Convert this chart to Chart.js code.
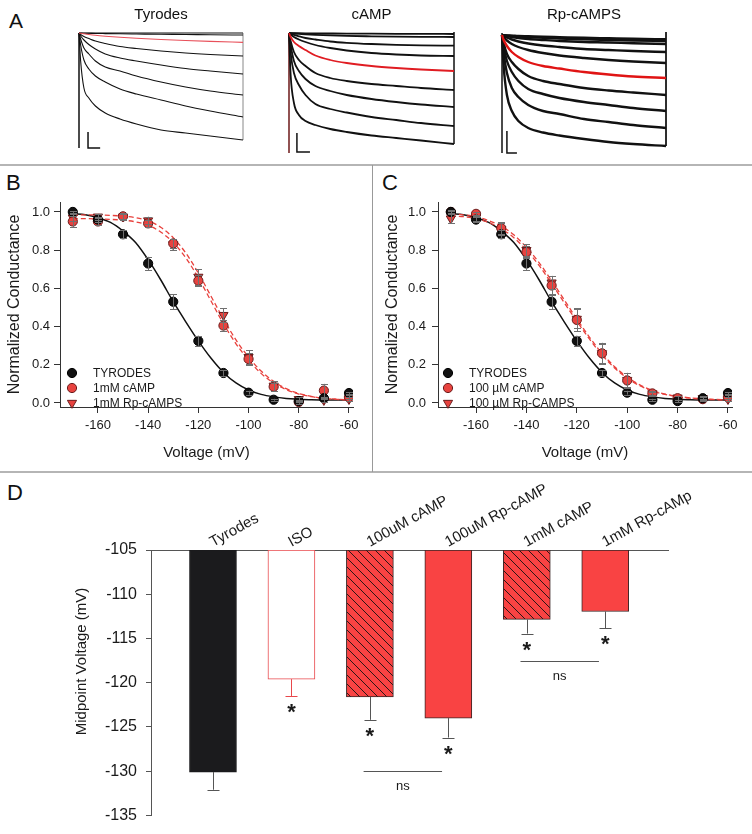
<!DOCTYPE html>
<html>
<head>
<meta charset="utf-8">
<script src="https://cdn.jsdelivr.net/npm/chart.js@4.4.1/dist/chart.umd.min.js"></script>
<style>
body { margin: 0; background: #fff; font-family: Arial, "Liberation Sans", Helvetica, sans-serif; }
#fig { position: relative; width: 752px; height: 834px; overflow: hidden; background: #fff; }
#fig canvas { position: absolute; }
.lbl { position: absolute; font-size: 22px; line-height: 1; color: #111; }
.rule { position: absolute; background: #b5b5b5; }
</style>
</head>
<body>
<div id="fig">
  <div class="lbl" style="left:9px;top:10px;font-size:21px">A</div>
  <div class="lbl" style="left:6px;top:172px">B</div>
  <div class="lbl" style="left:382px;top:172px">C</div>
  <div class="lbl" style="left:7px;top:482px">D</div>
  <div class="rule" style="left:0;top:164px;width:752px;height:2px"></div>
  <div class="rule" style="left:0;top:471px;width:752px;height:2px"></div>
  <div class="rule" style="left:372px;top:165px;width:1px;height:307px;background:#999"></div>

  <canvas id="a1" width="224" height="160" style="left:49px;top:0"></canvas>
  <canvas id="a2" width="225" height="160" style="left:259px;top:0"></canvas>
  <canvas id="a3" width="224" height="160" style="left:472px;top:0"></canvas>
  <canvas id="b" width="373" height="307" style="left:0;top:165px"></canvas>
  <canvas id="c" width="379" height="307" style="left:373px;top:165px"></canvas>
  <canvas id="d" width="752" height="362" style="left:0;top:472px"></canvas>
</div>
<script>
// ---- panel A : current traces (time in % of sweep, depth below holding level) ----
var TIME = [0, 1, 3, 6, 10, 16, 25, 35, 50, 65, 80, 100];

var TYR_TRACES = [
    [0, 0, 0, 0, 0, 0, 0, 0, 0, 0, 0, 0],
    [0, 0.1, 0.2, 0.3, 0.45, 0.6, 0.8, 1, 1.3, 1.5, 1.8, 2],
    [0, 0.3, 0.8, 1.5, 2.3, 3.2, 4.3, 5.3, 6.5, 7.5, 8.4, 9.4],
    [0, 1.5, 3.5, 5.5, 8, 10.5, 13.5, 15.5, 18, 20, 21.5, 23],
    [0, 3, 7, 11.5, 16, 21, 25, 28, 32, 35.5, 38, 41],
    [0, 6, 15, 21, 28, 34, 38, 43, 49, 54, 58, 62],
    [0, 12, 27, 36, 43, 49, 56, 61, 67, 73, 78, 84],
    [0, 28, 55, 65, 73, 80, 86, 91, 97, 100, 103, 107]
];
var CAMP_TRACES = [
    [0, 0.05, 0.1, 0.2, 0.3, 0.4, 0.5, 0.6, 0.7, 0.8, 0.9, 1],
    [0, 0.2, 0.5, 0.9, 1.3, 1.8, 2.4, 2.9, 3.3, 3.6, 3.8, 4],
    [0, 0.7, 1.8, 3.3, 5, 6.5, 8.5, 9.8, 11, 11.8, 12.3, 12.7],
    [0, 1.5, 4, 6.5, 9, 12, 15, 17.5, 20, 21.5, 22.5, 23],
    [0, 4, 9, 13, 17, 22.5, 27, 30, 33, 35, 36.5, 38],
    [0, 8, 19, 27, 33, 40, 45, 48, 51, 53, 55, 57],
    [0, 12, 28, 38, 46, 53, 58, 62, 66, 69, 71.5, 74],
    [0, 20, 40, 52, 62, 71, 76, 79.5, 84, 87, 90, 93],
    [0, 42, 70, 82, 88, 92, 96, 99, 102.5, 105, 107.5, 111]
];
var RP_TRACES = [
    [2, 2.2, 2.4, 2.6, 3, 3.3, 3.8, 4.2, 4.8, 5.3, 5.8, 6.3],
    [2, 2.3, 2.6, 3, 3.5, 4, 4.8, 5.5, 6.3, 7, 7.5, 8],
    [2, 2.5, 3, 4, 5, 6, 7, 8, 9, 9.5, 10.3, 11],
    [2, 3, 4.5, 6.5, 8.5, 10.5, 12.5, 14, 16, 17, 18, 19],
    [2, 4, 7.5, 11, 14, 17, 20, 22.5, 25, 27, 28.5, 30],
    [2, 7, 13, 19, 24, 29, 33, 35.5, 39, 41.5, 43.5, 45],
    [2, 10, 21, 29, 36, 43, 48, 51, 55, 57.5, 59.5, 62],
    [2, 14, 28, 39, 48, 56, 61, 65, 69, 72, 75, 78],
    [2, 20, 40, 55, 64, 72, 78, 81, 86, 89, 92, 95],
    [2, 33, 62, 78, 88, 95, 99.5, 102.5, 106, 109, 111, 113]
];
var TYR_RED = 2, CAMP_RED = 4, RP_RED = 5;
// left transient, right edge and scale bar, in the same units
var TYR_LEFT = [0, 115], CAMP_LEFT = [0, 120], RP_LEFT = [0, 120];
var TYR_EDGE = [0, 107], CAMP_EDGE = [-1, 111], RP_EDGE = [-1, 113];
var TYR_BAR = { x: [5.5, 5.5, 12.9], y: [99, 115, 115] };
var CAMP_BAR = { x: [4.8, 4.8, 12.7], y: [100, 119, 119] };
var RP_BAR = { x: [3, 3, 9.1], y: [98, 120, 120] };

// ---- panels B and C : normalized conductance ----
var VOLTS = [-170, -160, -150, -140, -130, -120, -110, -100, -90, -80, -70, -60];
var TYR_G = [1.0, 0.96, 0.883, 0.73, 0.53, 0.325, 0.157, 0.054, 0.017, 0.01, 0.025, 0.052];
var TYR_ERR = [0.005, 0.015, 0.02, 0.035, 0.04, 0.025, 0.015, 0.01, 0.005, 0.005, 0.005, 0.005];
var B_CAMP_G = [0.95, 0.95, 0.977, 0.94, 0.835, 0.64, 0.405, 0.23, 0.085, 0.005, 0.065, 0.03];
var B_CAMP_ERR = [0.03, 0.02, 0.015, 0.02, 0.025, 0.03, 0.03, 0.03, 0.02, 0.01, 0.035, 0.01];
var B_RP_G = [0.97, 0.975, 0.975, 0.955, 0.83, 0.66, 0.46, 0.24, 0.09, 0.02, 0.015, 0.02];
var B_RP_ERR = [0.02, 0.015, 0.015, 0.02, 0.03, 0.04, 0.035, 0.035, 0.025, 0.01, 0.01, 0.01];
var C_CAMP_G = [1.0, 0.99, 0.915, 0.79, 0.615, 0.435, 0.26, 0.118, 0.05, 0.025, 0.02, 0.03];
var C_CAMP_ERR = [0.01, 0.01, 0.03, 0.03, 0.05, 0.06, 0.055, 0.04, 0.015, 0.01, 0.01, 0.01];
var C_RP_G = [0.965, 0.97, 0.91, 0.80, 0.63, 0.44, 0.26, 0.12, 0.05, 0.028, 0.025, 0.02];
var C_RP_ERR = [0.025, 0.015, 0.03, 0.03, 0.035, 0.05, 0.05, 0.035, 0.01, 0.01, 0.01, 0.01];

// fitted curves every 5 mV
var FIT_VOLTS = [-170, -165, -160, -155, -150, -145, -140, -135, -130, -125, -120, -115,
                 -110, -105, -100, -95, -90, -85, -80, -75, -70, -65, -60];
var FIT_TYR = [0.99, 0.985, 0.97, 0.945, 0.9, 0.84, 0.75, 0.645, 0.53, 0.425, 0.325, 0.235,
               0.16, 0.105, 0.068, 0.045, 0.032, 0.024, 0.02, 0.017, 0.016, 0.015, 0.015];
var FIT_B_CAMP = [0.965, 0.965, 0.963, 0.961, 0.957, 0.948, 0.93, 0.895, 0.84, 0.76, 0.655, 0.535,
                  0.415, 0.31, 0.225, 0.155, 0.105, 0.07, 0.047, 0.033, 0.024, 0.019, 0.016];
var FIT_B_RP = [0.985, 0.985, 0.984, 0.982, 0.978, 0.97, 0.953, 0.92, 0.865, 0.785, 0.68, 0.56,
                0.44, 0.33, 0.24, 0.167, 0.113, 0.075, 0.05, 0.035, 0.025, 0.02, 0.016];
var FIT_C_CAMP = [0.99, 0.985, 0.975, 0.955, 0.925, 0.88, 0.815, 0.735, 0.64, 0.54, 0.44, 0.345,
                  0.26, 0.19, 0.135, 0.095, 0.066, 0.047, 0.035, 0.027, 0.022, 0.019, 0.017];
var FIT_C_RP = [0.98, 0.975, 0.965, 0.945, 0.912, 0.865, 0.80, 0.72, 0.625, 0.525, 0.428, 0.335,
                0.252, 0.183, 0.13, 0.09, 0.063, 0.045, 0.033, 0.025, 0.02, 0.017, 0.015];
var G_X_TICKS = [-160, -140, -120, -100, -80, -60];
var G_Y_TICKS = [0, 0.2, 0.4, 0.6, 0.8, 1.0];

// ---- panel D : midpoint voltage ----
var D_CATS = ['Tyrodes', 'ISO', '100uM cAMP', '100uM Rp-cAMP', '1mM cAMP', '1mM Rp-cAMp'];
var D_MEANS = [-130.1, -119.6, -121.6, -124.0, -112.85, -111.95];
var D_ERRS = [2.0, 1.9, 2.6, 2.2, 1.6, 1.9];
var D_STARS = [false, true, true, true, true, true];
var D_NS = [[2, 3, -130], [4, 5, -117.6]];
var D_BASE = -105;
var D_Y_TICKS = [-135, -130, -125, -120, -115, -110, -105];
var D_Y_TITLE = 'Midpoint Voltage (mV)';

var FONT = 'Arial, "Liberation Sans", Helvetica, sans-serif';
var RED = '#f94343';
var RED_PT = '#e8433f';
Chart.defaults.font.family = FONT;
Chart.defaults.color = '#1a1a1a';

function pts(xs, ys) {
    return xs.map(function(x, i) { return { x: x, y: ys[i] }; });
}

// error bars: 'both' around the point, 'down' below a bar end
var errorBars = {
    id: 'errorBars',
    afterDatasetsDraw: function(chart) {
        var ctx = chart.ctx, ys = chart.scales.y;
        chart.data.datasets.forEach(function(ds, i) {
            if (!ds.errs) return;
            var meta = chart.getDatasetMeta(i);
            ctx.save();
            ctx.lineWidth = 1;
            meta.data.forEach(function(el, j) {
                ctx.strokeStyle = Array.isArray(ds.errColor) ? ds.errColor[j] : ds.errColor;
                var x = Math.round(el.x) + 0.5;
                var v = ds.vals[j], e = ds.errs[j];
                var y1 = ys.getPixelForValue(ds.errDir === 'down' ? v : v + e);
                var y2 = ys.getPixelForValue(v - e);
                var w = ds.capW;
                ctx.beginPath();
                ctx.moveTo(x, y1); ctx.lineTo(x, y2);
                ctx.moveTo(x - w, Math.round(y2) + 0.5); ctx.lineTo(x + w, Math.round(y2) + 0.5);
                if (ds.errDir !== 'down') {
                    ctx.moveTo(x - w, Math.round(y1) + 0.5); ctx.lineTo(x + w, Math.round(y1) + 0.5);
                }
                ctx.stroke();
            });
            ctx.restore();
        });
    }
};

// legend drawn inside the plot area
var ptLegend = {
    id: 'ptLegend',
    afterDraw: function(chart, args, opts) {
        var ctx = chart.ctx;
        ctx.save();
        ctx.font = '12px ' + FONT;
        ctx.textBaseline = 'middle';
        opts.items.forEach(function(idx, k) {
            var ds = chart.data.datasets[idx];
            var y = opts.y0 + k * opts.dy;
            ctx.fillStyle = ds.backgroundColor;
            ctx.strokeStyle = ds.borderColor;
            ctx.lineWidth = ds.borderWidth;
            Chart.helpers.drawPoint(ctx, { pointStyle: ds.pointStyle, radius: ds.pointRadius,
                rotation: ds.rotation || 0, borderWidth: ds.borderWidth }, opts.x, y);
            ctx.fillStyle = '#1a1a1a';
            ctx.fillText(ds.label, opts.tx, y + 0.5);
        });
        ctx.restore();
    }
};

function traceChart(id, title, traces, redIdx, lw, red, leftArr, leftColor, edgeArr, edgeColor, bar) {
    var datasets = [];
    // red sweep first so it sits on top
    datasets.push({ data: pts(TIME, traces[redIdx]), borderColor: red, borderWidth: lw,
        cubicInterpolationMode: 'monotone' });
    traces.forEach(function(tr, i) {
        if (i === redIdx) return;
        datasets.push({ data: pts(TIME, tr), borderColor: '#111', borderWidth: lw,
            cubicInterpolationMode: 'monotone' });
    });
    datasets.push({ data: pts([0, 0], leftArr), borderColor: leftColor, borderWidth: 1.5 });
    datasets.push({ data: pts([100, 100], edgeArr), borderColor: edgeColor, borderWidth: 1 });
    datasets.push({ data: pts(bar.x, bar.y), borderColor: '#111', borderWidth: 1.5 });
    datasets.forEach(function(d) { d.showLine = true; d.pointRadius = 0; d.clip = 6; d.fill = false; });

    new Chart(document.getElementById(id), {
        type: 'scatter',
        data: { datasets: datasets },
        options: {
            responsive: false, animation: false, devicePixelRatio: 1, events: [],
            layout: { padding: { left: 30, right: 30, top: 0, bottom: 7 } },
            plugins: {
                legend: { display: false }, tooltip: { enabled: false },
                title: { display: true, text: title, color: '#111',
                    font: { size: 15, weight: 'normal' }, padding: { top: 6, bottom: 9 } }
            },
            scales: {
                x: { type: 'linear', display: false, min: 0, max: 100 },
                y: { type: 'linear', display: false, min: 0, max: 120, reverse: true }
            }
        }
    });
}

traceChart('a1', 'Tyrodes', TYR_TRACES, TYR_RED, 1.1, '#e8505a', TYR_LEFT, '#111', TYR_EDGE, '#bbbbbb', TYR_BAR);
traceChart('a2', 'cAMP', CAMP_TRACES, CAMP_RED, 1.8, '#e01c22', CAMP_LEFT, '#6e1a1a', CAMP_EDGE, '#333', CAMP_BAR);
traceChart('a3', 'Rp-cAMPS', RP_TRACES, RP_RED, 2.4, '#e01414', RP_LEFT, '#111', RP_EDGE, '#111', RP_BAR);

function gChart(id, cfg) {
    var ptBase = { showLine: false, borderWidth: 1, errDir: 'both', capW: 3.5, errColor: '#707070' };
    var datasets = [
        Object.assign({ label: 'TYRODES', data: pts(VOLTS, TYR_G), vals: TYR_G, errs: TYR_ERR,
            pointStyle: 'circle', pointRadius: 4.6, backgroundColor: '#111', borderColor: '#000' }, ptBase),
        Object.assign({ label: cfg.campLabel, data: pts(VOLTS, cfg.camp), vals: cfg.camp, errs: cfg.campErr,
            pointStyle: 'circle', pointRadius: 4.6, backgroundColor: RED_PT, borderColor: '#6a1c1c' }, ptBase),
        Object.assign({ label: cfg.rpLabel, data: pts(VOLTS, cfg.rp), vals: cfg.rp, errs: cfg.rpErr,
            pointStyle: 'triangle', rotation: 180, pointRadius: 5.3, backgroundColor: RED_PT, borderColor: '#6a1c1c' }, ptBase),
        { data: pts(FIT_VOLTS, cfg.fitRp), showLine: true, pointRadius: 0, borderColor: '#e8403c',
            borderWidth: 1.3, borderDash: [5, 3], cubicInterpolationMode: 'monotone' },
        { data: pts(FIT_VOLTS, cfg.fitCamp), showLine: true, pointRadius: 0, borderColor: '#e8403c',
            borderWidth: 1.3, borderDash: [5, 3], cubicInterpolationMode: 'monotone' },
        { data: pts(FIT_VOLTS, FIT_TYR), showLine: true, pointRadius: 0, borderColor: '#111',
            borderWidth: 1.5, cubicInterpolationMode: 'monotone' }
    ];
    new Chart(document.getElementById(id), {
        type: 'scatter',
        data: { datasets: datasets },
        options: {
            responsive: false, animation: false, devicePixelRatio: 1, events: [],
            layout: { padding: { left: 0, right: cfg.padRight, top: 37, bottom: 0 } },
            plugins: {
                legend: { display: false }, tooltip: { enabled: false },
                ptLegend: { items: [0, 1, 2], x: cfg.legX, tx: cfg.legTx, y0: 208, dy: 15 }
            },
            scales: {
                x: {
                    type: 'linear', min: -175.1, max: -58.4,
                    afterBuildTicks: function(s) { s.ticks = G_X_TICKS.map(function(v) { return { value: v }; }); },
                    ticks: { font: { size: 13 }, color: '#1a1a1a', padding: 5, maxRotation: 0 },
                    grid: { drawOnChartArea: false, tickLength: 6, color: '#333' },
                    border: { color: '#333' },
                    title: { display: true, text: 'Voltage (mV)', font: { size: 15 }, color: '#1a1a1a',
                        padding: { top: 0, bottom: 10 } },
                    afterFit: function(s) { s.height = 65; }
                },
                y: {
                    type: 'linear', min: -0.021, max: 1.052,
                    afterBuildTicks: function(s) { s.ticks = G_Y_TICKS.map(function(v) { return { value: v }; }); },
                    ticks: { font: { size: 13 }, color: '#1a1a1a', padding: cfg.yTickPad,
                        callback: function(v) { return v.toFixed(1); } },
                    grid: { drawOnChartArea: false, tickLength: 6, color: '#333' },
                    border: { color: '#333' },
                    title: { display: true, text: 'Normalized Conductance', font: { size: 16 }, color: '#1a1a1a',
                        padding: { top: cfg.yTitlePad, bottom: 0 } },
                    afterFit: function(s) { s.width = cfg.yWidth; }
                }
            }
        },
        plugins: [errorBars, ptLegend]
    });
}

gChart('b', { campLabel: '1mM cAMP', rpLabel: '1mM Rp-cAMPS', camp: B_CAMP_G, campErr: B_CAMP_ERR,
    rp: B_RP_G, rpErr: B_RP_ERR, fitCamp: FIT_B_CAMP, fitRp: FIT_B_RP,
    padRight: 20, yWidth: 60, yTickPad: 4, yTitlePad: 5, legX: 72, legTx: 93 });
gChart('c', { campLabel: '100 \u00b5M cAMP', rpLabel: '100 \u00b5M Rp-CAMPS', camp: C_CAMP_G, campErr: C_CAMP_ERR,
    rp: C_RP_G, rpErr: C_RP_ERR, fitCamp: FIT_C_CAMP, fitRp: FIT_C_RP,
    padRight: 20, yWidth: 65, yTickPad: 6, yTitlePad: 10, legX: 75, legTx: 96 });

// ---- panel D ----
var dCanvas = document.getElementById('d');
function hatch(ctx) {
    var t = document.createElement('canvas');
    t.width = 9; t.height = 9;
    var g = t.getContext('2d');
    g.fillStyle = RED;
    g.fillRect(0, 0, 9, 9);
    g.strokeStyle = '#2b1616';
    g.lineWidth = 1;
    g.beginPath();
    g.moveTo(-1, -1); g.lineTo(10, 10);
    g.moveTo(-1, 8); g.lineTo(1, 10);
    g.moveTo(8, -1); g.lineTo(10, 1);
    g.stroke();
    return ctx.createPattern(t, 'repeat');
}
var HATCH = hatch(dCanvas.getContext('2d'));

var dNotes = {
    id: 'dNotes',
    afterDraw: function(chart) {
        var ctx = chart.ctx, xs = chart.scales.x, ys = chart.scales.y, top = chart.chartArea.top;
        ctx.save();
        ctx.fillStyle = '#1a1a1a';
        // axis title, sitting a little above the middle of the axis as in the figure
        ctx.save();
        ctx.font = '15px ' + FONT;
        ctx.translate(82, ys.getPixelForValue(-117.6));
        ctx.rotate(-Math.PI / 2);
        ctx.textAlign = 'center';
        ctx.textBaseline = 'middle';
        ctx.fillText(D_Y_TITLE, 0, 0);
        ctx.restore();

        ctx.font = '15px ' + FONT;
        D_CATS.forEach(function(c, i) {
            ctx.save();
            ctx.translate(xs.getPixelForValue(i), top - 3);
            ctx.rotate(-29 * Math.PI / 180);
            ctx.textAlign = 'left';
            ctx.textBaseline = 'alphabetic';
            ctx.fillText(c, 0, 0);
            ctx.restore();
        });
        ctx.font = 'bold 22px ' + FONT;
        ctx.textAlign = 'center';
        ctx.textBaseline = 'alphabetic';
        D_STARS.forEach(function(s, i) {
            if (!s) return;
            var yb = ys.getPixelForValue(D_MEANS[i] - D_ERRS[i]) + 23;
            ctx.fillText('*', xs.getPixelForValue(i), yb);
        });
        ctx.strokeStyle = '#555';
        ctx.lineWidth = 1;
        ctx.font = '13px ' + FONT;
        ctx.textBaseline = 'middle';
        D_NS.forEach(function(p) {
            var yl = Math.round(ys.getPixelForValue(p[2])) + 0.5;
            ctx.beginPath();
            ctx.moveTo(xs.getPixelForValue(p[0] - 0.08), yl);
            ctx.lineTo(xs.getPixelForValue(p[1] - 0.08), yl);
            ctx.stroke();
            ctx.fillText('ns', xs.getPixelForValue((p[0] + p[1]) / 2 - 0.08), yl + 15);
        });
        ctx.restore();
    }
};

new Chart(dCanvas, {
    type: 'bar',
    data: {
        datasets: [{
            data: D_MEANS.map(function(v, i) { return { x: i, y: [D_BASE, v] }; }),
            vals: D_MEANS, errs: D_ERRS, errDir: 'down', capW: 6,
            errColor: ['#555', '#e8474b', '#555', '#555', '#555', '#555'],
            backgroundColor: ['#1b1b1d', '#ffffff', HATCH, RED, HATCH, RED],
            borderColor: ['#1b1b1d', '#e8474b', '#3a2626', '#3a2626', '#3a2626', '#3a2626'],
            borderWidth: 1, borderSkipped: false, barThickness: 47
        }]
    },
    options: {
        responsive: false, animation: false, devicePixelRatio: 1, events: [],
        layout: { padding: { left: 0, right: 84, top: 78, bottom: 10 } },
        plugins: { legend: { display: false }, tooltip: { enabled: false } },
        scales: {
            x: {
                type: 'linear', position: 'top', min: -0.79, max: 5.8, offset: false,
                ticks: { display: false },
                grid: { display: false, drawTicks: false },
                border: { color: '#555' },
                afterFit: function(s) { s.height = 0; }
            },
            y: {
                type: 'linear', min: -135, max: -105,
                afterBuildTicks: function(s) { s.ticks = D_Y_TICKS.map(function(v) { return { value: v }; }); },
                ticks: { font: { size: 16 }, color: '#1a1a1a', padding: 9 },
                grid: { drawOnChartArea: false, tickLength: 5, color: '#555' },
                border: { color: '#555' },
                afterFit: function(s) { s.width = 151; }
            }
        }
    },
    plugins: [errorBars, dNotes]
});
</script>
</body>
</html>
